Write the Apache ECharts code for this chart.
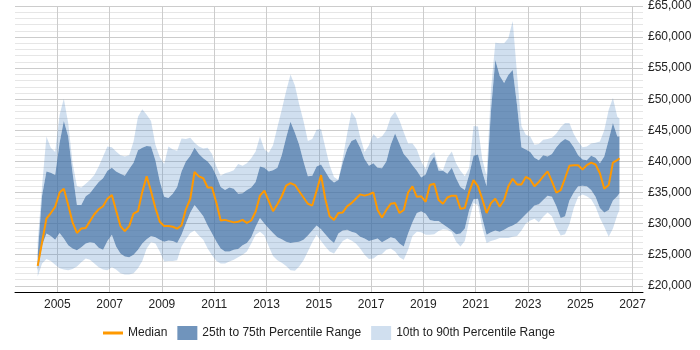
<!DOCTYPE html>
<html>
<head>
<meta charset="utf-8">
<script src="https://cdn.jsdelivr.net/npm/echarts@6/dist/echarts.min.js"></script>
<style>
  html, body { margin: 0; padding: 0; background: #fff; }
  #chart { width: 700px; height: 350px; }
</style>
</head>
<body>
<div id="chart"></div>
<script>
  // samples every 2 months from Apr 2004, last one Jul 2026 (values in £k)
  const firstYear = 2004
  const firstMonth = 4
  const lastSample = [2026, 7]

  const median = [
    23.2, 27.0, 30.8, 31.7, 32.7, 35.0, 35.6, 33.0, 30.2, 28.5, 29.2, 29.3, 30.4, 31.5, 32.3, 32.8, 34.0, 34.6, 32.1, 29.6, 28.8, 29.6, 31.6,
    32.0, 35.1, 37.6, 35.2, 32.5, 30.3, 29.6, 29.6, 29.5, 29.2, 29.7, 32.3, 34.0, 38.3, 37.6, 37.3, 35.8, 35.8, 33.3, 30.5, 30.6, 30.4, 30.2,
    30.3, 30.6, 30.1, 30.5, 31.9, 34.5, 35.3, 33.6, 32.0, 33.1, 34.4, 36.1, 36.5, 36.2, 35.2, 34.2, 33.2, 32.9, 35.3, 37.8, 34.0, 31.2, 30.6,
    31.7, 31.8, 32.8, 33.3, 34.0, 34.7, 34.5, 34.7, 35.0, 32.2, 31.0, 32.2, 33.2, 33.3, 31.7, 32.2, 35.0, 36.0, 34.3, 34.4, 33.5, 36.2, 36.4,
    33.8, 33.2, 34.2, 34.5, 34.5, 32.4, 32.5, 35.1, 37.0, 36.0, 34.0, 31.7, 33.3, 34.0, 32.7, 33.8, 36.0, 37.2, 36.3, 36.3, 37.5, 37.1,
    36.0, 36.7, 37.6, 38.4, 36.8, 35.0, 35.4, 37.3, 39.3, 39.4, 39.4, 38.7, 39.4, 39.8, 39.5, 38.1, 35.6, 36.2, 39.8, 40.2, 40.5
  ]
  const p25 = [
    22.5, 26.5, 28.4, 28.0, 27.4, 28.5, 27.6, 26.5, 26.0, 25.7, 26.2, 26.8, 27.0, 26.9, 26.1, 25.8, 27.2, 28.2, 26.3, 25.2, 24.7, 24.6, 25.0,
    25.8, 26.8, 27.5, 28.0, 27.8, 27.4, 27.1, 27.3, 27.2, 26.9, 28.2, 30.0, 31.8, 33.0, 32.1, 31.2, 29.7, 28.4, 27.1, 26.0, 25.5, 25.5, 25.8,
    25.9, 26.5, 26.9, 27.8, 29.5, 30.9, 30.0, 29.2, 28.5, 27.8, 27.5, 27.1, 26.9, 27.0, 27.1, 27.4, 28.1, 28.9, 29.7, 29.1, 28.3, 27.5, 26.9,
    28.4, 28.9, 29.0, 28.7, 28.5, 27.9, 27.6, 27.2, 27.4, 27.6, 27.0, 27.4, 27.8, 27.6, 26.8, 26.3, 28.4, 30.2, 31.7, 32.0, 31.6, 30.6, 30.4,
    30.4, 29.9, 29.4, 28.9, 28.3, 28.4, 29.2, 32.2, 33.9, 34.0, 30.9, 28.2, 28.6, 28.9, 28.7, 29.0, 29.4, 29.7, 30.1, 30.8, 31.5, 32.2,
    32.9, 33.1, 33.8, 34.5, 34.3, 32.8, 30.9, 31.2, 33.7, 35.0, 36.0, 36.1, 36.0, 35.4, 34.3, 32.5, 31.8, 32.2, 33.7, 34.4, 34.9
  ]
  const p75 = [
    25.0, 34.5, 38.4, 38.2, 37.8, 43.0, 46.5, 44.0, 38.2, 33.0, 33.0, 34.4, 34.9, 35.8, 36.7, 37.3, 38.5, 39.0, 38.4, 38.0, 37.7, 38.8, 39.8,
    41.8, 42.2, 42.5, 42.4, 40.2, 36.8, 34.3, 34.1, 34.8, 35.9, 38.4, 40.0, 40.9, 42.2, 41.2, 40.5, 40.0, 39.1, 37.6, 35.9, 35.4, 35.8, 35.6,
    34.8, 34.9, 35.4, 35.8, 36.7, 39.2, 39.0, 38.4, 38.6, 39.0, 41.0, 43.8, 46.4, 44.6, 42.7, 40.0, 37.6, 37.7, 39.2, 39.5, 38.4, 37.2, 36.6,
    37.0, 39.8, 42.0, 43.3, 43.6, 42.2, 40.4, 39.3, 39.7, 39.0, 38.9, 40.0, 42.7, 44.5, 42.8, 41.2, 40.4, 39.4, 38.5, 37.4, 37.9, 39.7, 40.8,
    38.5, 38.5, 38.0, 39.0, 37.3, 35.9, 35.4, 37.9, 40.9, 41.1, 38.4, 36.0, 48.1, 56.3, 53.8, 52.6, 53.9, 54.7, 49.0, 42.3, 41.9, 41.5,
    40.6, 40.2, 41.0, 40.8, 41.2, 42.3, 43.1, 43.6, 43.3, 42.3, 41.0, 40.3, 40.2, 40.9, 40.6, 39.7, 40.8, 43.5, 46.2, 44.0, 44.0
  ]
  const p10 = [
    21.5, 23.6, 24.3, 24.0, 23.4, 22.8, 22.6, 22.5, 22.7, 23.1, 23.8, 24.4, 24.2, 23.6, 23.0, 22.6, 22.5, 23.0, 22.6, 22.0, 21.8, 21.8, 22.0,
    22.8, 24.0, 26.0, 27.0, 26.8, 25.5, 23.9, 24.0, 24.0, 24.1, 26.3, 27.5, 28.5, 28.9, 28.1, 27.4, 26.0, 24.9, 24.0, 23.6, 23.6, 23.9, 24.2,
    24.6, 25.0, 25.5, 26.8, 28.2, 28.7, 28.1, 26.3, 24.8, 24.1, 23.7, 23.2, 22.5, 22.4, 23.1, 24.1, 25.5, 27.0, 28.2, 27.2, 26.3, 25.5, 25.2,
    26.2, 27.2, 27.6, 27.3, 26.8, 26.0, 25.0, 24.3, 24.4, 24.9, 25.1, 25.8, 26.0, 25.5, 24.6, 24.2, 25.8, 28.0, 28.7, 28.6, 28.2, 28.2, 28.3,
    28.8, 29.1, 29.0, 28.6, 27.1, 26.3, 27.2, 30.5, 33.3, 33.0, 29.4, 26.9, 27.2, 27.4, 27.7, 27.7, 27.7, 27.9, 28.0, 28.9, 30.0, 30.5,
    30.8, 30.2, 31.1, 31.8, 31.2, 29.4, 28.1, 28.3, 29.9, 32.5, 34.3, 34.7, 34.4, 33.9, 32.7, 30.9, 29.5, 27.9, 29.2, 31.4, 32.2
  ]
  const p90 = [
    27.0, 36.0, 44.0, 42.2, 41.5, 47.5, 50.1, 46.2, 39.8, 36.0, 35.8, 36.4, 37.0, 37.8, 39.2, 40.8, 42.4, 42.3, 41.6, 41.0, 40.8, 41.0, 43.2,
    47.2, 48.4, 47.5, 46.5, 42.7, 40.7, 39.6, 42.4, 41.9, 41.7, 43.7, 43.6, 43.8, 43.0, 42.4, 42.1, 42.2, 41.2, 39.2, 37.7, 38.1, 38.3, 38.6,
    39.6, 39.3, 39.7, 40.5, 41.6, 44.0, 41.9, 41.4, 42.6, 45.5, 48.3, 51.3, 54.0, 52.2, 49.2, 46.5, 43.3, 43.6, 45.1, 45.2, 42.3, 39.4, 37.5,
    37.0, 40.5, 44.5, 48.0, 46.9, 43.9, 41.5, 42.6, 44.4, 43.7, 44.0, 45.0, 47.1, 48.0, 46.6, 44.7, 42.9, 42.9, 41.9, 40.0, 38.8, 40.9, 41.5,
    39.0, 38.6, 40.6, 41.6, 39.7, 38.5, 37.6, 39.0, 45.7, 45.6, 40.4, 37.7, 51.4, 59.1, 59.0, 59.0, 59.8, 62.6, 54.0, 45.7, 44.3, 44.0,
    42.7, 42.8, 43.5, 43.6, 43.8, 44.5, 45.5, 46.2, 46.2, 44.4, 43.2, 42.3, 42.4, 42.9, 43.0, 43.2, 45.0, 48.3, 50.2, 47.2, 46.9
  ]
  const yearTicks = [2005, 2007, 2009, 2011, 2013, 2015, 2017, 2019, 2021, 2023, 2025, 2027]

  const orange = '#ff9900'
  const darkBlue = 'rgba(64,112,166,0.75)'
  const lightBlue = 'rgba(66,126,190,0.25)'
  const font = '"Liberation Sans", Arial, sans-serif'

  // axis range as dates, and the same range as decimal years for the labelled axis
  const axisStart = new Date(2003, 4, 20).getTime()
  const axisEnd = new Date(2027, 4, 26).getTime()
  const toYear = t => {
    const d = new Date(t)
    const y = d.getFullYear()
    const a = new Date(y, 0, 1).getTime()
    const b = new Date(y + 1, 0, 1).getTime()
    return y + (t - a) / (b - a)
  }

  const times = []
  for (let i = 0; i < median.length - 1; i++) {
    times.push(new Date(firstYear, firstMonth - 1 + 2 * i, 1).getTime())
  }
  times.push(new Date(lastSample[0], lastSample[1] - 1, 1).getTime())

  const pairs = arr => arr.map((v, i) => [times[i], v])
  const gap = (hi, lo) => hi.map((v, i) => [times[i], Math.max(0, +(v - lo[i]).toFixed(2))])

  const chart = echarts.init(document.getElementById('chart'), null, { renderer: 'canvas' })
  const bandBase = {
    type: 'line',
    stack: 'band',
    symbol: 'none',
    silent: true,
    xAxisIndex: 0,
    lineStyle: { width: 0, opacity: 0 }
  }
  chart.setOption({
    animation: false,
    textStyle: { fontFamily: font },
    grid: { left: 15, right: 57, top: 6, bottom: 58, outerBoundsMode: 'none' },
    legend: {
      left: 98,
      top: 321,
      itemWidth: 20,
      itemHeight: 14,
      itemGap: 10,
      textStyle: { fontSize: 12, color: '#222', fontFamily: font },
      data: [
        { name: 'Median', icon: 'path://M0,0M20,14M0,5.5L20,5.5L20,8.5L0,8.5Z', itemStyle: { color: orange } },
        { name: '25th to 75th Percentile Range', icon: 'rect' },
        { name: '10th to 90th Percentile Range', icon: 'rect' }
      ]
    },
    xAxis: [
      {
        // time axis carrying the series, not drawn
        type: 'time',
        min: axisStart,
        max: axisEnd,
        show: false
      },
      {
        // labelled year axis over the same span
        type: 'value',
        position: 'bottom',
        min: toYear(axisStart),
        max: toYear(axisEnd),
        axisLine: { onZero: false, lineStyle: { color: '#000', width: 1 } },
        axisTick: { show: false, customValues: yearTicks },
        axisLabel: {
          customValues: yearTicks,
          formatter: v => String(v),
          color: '#222',
          fontSize: 12,
          margin: 7,
          fontFamily: font
        },
        splitLine: { show: true, lineStyle: { color: '#cccccc', width: 1 } }
      }
    ],
    yAxis: {
      type: 'value',
      position: 'right',
      min: 19,
      max: 65,
      interval: 1,
      axisLine: { show: false },
      axisTick: { show: false },
      axisLabel: {
        margin: 5,
        color: '#222',
        fontSize: 12,
        fontFamily: font,
        formatter: v => (v % 5 === 0 ? '£' + v + ',000' : '')
      },
      splitLine: {
        show: true,
        lineStyle: { color: ['#e6e6e6', '#cccccc', '#e6e6e6', '#e6e6e6', '#e6e6e6'], width: 1 }
      }
    },
    series: [
      Object.assign({}, bandBase, { name: 'p10', data: pairs(p10) }),
      Object.assign({}, bandBase, {
        name: '10th to 90th Percentile Range',
        data: gap(p25, p10),
        itemStyle: { color: lightBlue },
        areaStyle: { color: lightBlue, opacity: 1 }
      }),
      Object.assign({}, bandBase, {
        name: '25th to 75th Percentile Range',
        data: gap(p75, p25),
        itemStyle: { color: darkBlue },
        areaStyle: { color: darkBlue, opacity: 1 }
      }),
      Object.assign({}, bandBase, {
        name: '10th to 90th Percentile Range',
        data: gap(p90, p75),
        itemStyle: { color: lightBlue },
        areaStyle: { color: lightBlue, opacity: 1 }
      }),
      {
        name: 'Median',
        type: 'line',
        xAxisIndex: 0,
        symbol: 'none',
        z: 5,
        data: pairs(median),
        itemStyle: { color: orange },
        lineStyle: { color: orange, width: 2 }
      }
    ]
  })
</script>
</body>
</html>
